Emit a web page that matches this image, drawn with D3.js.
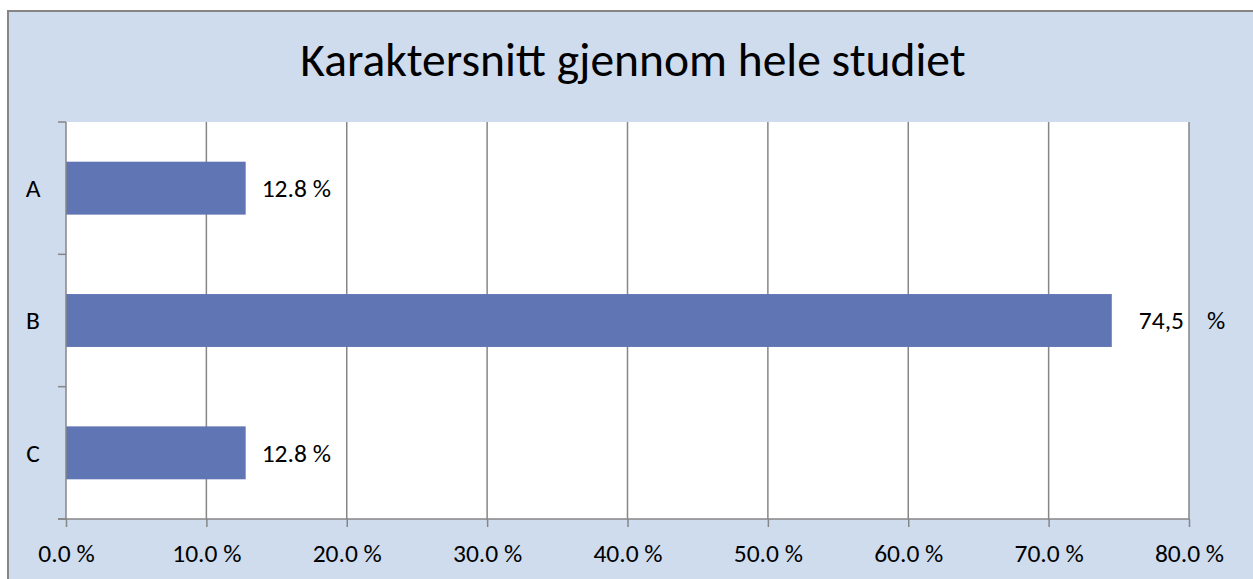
<!DOCTYPE html>
<html>
<head>
<meta charset="utf-8">
<script src="https://cdn.jsdelivr.net/npm/d3@7"></script>
<style>
  body { margin: 0; background: #fff; }
  text { font-family: Carlito, "Open Sans", "Liberation Sans", sans-serif; fill: #000; }
</style>
</head>
<body>
<svg id="chart" width="1253" height="579"></svg>
<script>
// data
var categories = ["A", "B", "C"];
var values = [12.8, 74.5, 12.8];
var valueLabels = ["12.8 %", "74,5", "12.8 %"];
var xTicks = [0, 10, 20, 30, 40, 50, 60, 70, 80];
var title = "Karaktersnitt gjennom hele studiet";

var svg = d3.select("#chart");
var W = 1253, H = 579;
var margin = {left: 66, top: 122, right: W - 1189, bottom: H - 519};
var width = W - margin.left - margin.right,
    height = H - margin.top - margin.bottom;
var fs = 25.5;

// outer chart area
svg.append("rect")
    .attr("x", 8).attr("y", 11)
    .attr("width", W - 8 + 5).attr("height", H - 11 + 5)
    .attr("fill", "#cfdcee")
    .attr("stroke", "#868686").attr("stroke-width", 2);

svg.append("text")
    .attr("x", 633).attr("y", 76)
    .attr("text-anchor", "middle")
    .attr("font-size", 47.5)
    .text(title);

var g = svg.append("g").attr("transform", `translate(${margin.left},${margin.top})`);

g.append("rect")
    .attr("width", width).attr("height", height)
    .attr("fill", "#fff");

var xScale = d3.scaleLinear().domain([0, 80]).range([0, width]);
var yScale = d3.scaleBand().domain(categories).range([0, height]).paddingInner(0.6).paddingOuter(0.3);
var yOuter = d3.scaleBand().domain(categories).range([0, height]);

// vertical gridlines
g.selectAll(".grid").data(xTicks.slice(1))
    .enter().append("line")
    .attr("x1", d => xScale(d)).attr("x2", d => xScale(d))
    .attr("y1", 0).attr("y2", height)
    .attr("stroke", "#868686").attr("stroke-width", 1.5);

// bars
g.selectAll(".bar").data(values)
    .enter().append("rect")
    .attr("x", 0)
    .attr("y", (d, i) => yScale(categories[i]))
    .attr("width", d => xScale(d))
    .attr("height", yScale.bandwidth())
    .attr("fill", "#6076b4");

// value labels (the B label is split, "%" sits apart)
var lbl = g.selectAll(".lbl").data(values)
    .enter().append("text")
    .attr("x", (d, i) => xScale(d) + (valueLabels[i].indexOf("%") < 0 ? 27 : 16))
    .attr("y", (d, i) => yScale(categories[i]) + yScale.bandwidth() / 2)
    .attr("dy", "0.35em")
    .attr("font-size", fs);
lbl.append("tspan").text((d, i) => valueLabels[i]);
lbl.filter((d, i) => valueLabels[i].indexOf("%") < 0)
    .append("tspan").attr("dx", 23).text("%");

// axes
var xAxis = d3.axisBottom(xScale).tickValues(xTicks)
    .tickFormat(d => d3.format(".1f")(d) + " %")
    .tickSize(8).tickSizeOuter(0);
var xg = g.append("g").attr("transform", `translate(0,${height})`).call(xAxis);
xg.select(".domain").attr("stroke", "#868686").attr("stroke-width", 1.5)
    .attr("d", `M-8,0H${width}`);
xg.selectAll(".tick line").attr("stroke", "#868686").attr("stroke-width", 1.5);
xg.selectAll(".tick text").attr("font-size", fs).attr("y", 43).attr("dy", 0)
    .attr("font-family", "Carlito, 'Open Sans', 'Liberation Sans', sans-serif").attr("fill", "#000");

// y axis: ticks between categories
var yTickPos = categories.map(c => yOuter(c)).concat([height]);
g.append("line").attr("x1", 0).attr("x2", 0).attr("y1", 0).attr("y2", height)
    .attr("stroke", "#868686").attr("stroke-width", 1.5);
g.selectAll(".ytick").data(yTickPos)
    .enter().append("line")
    .attr("x1", -8).attr("x2", 0)
    .attr("y1", d => d).attr("y2", d => d)
    .attr("stroke", "#868686").attr("stroke-width", 1.5);
g.selectAll(".ylab").data(categories)
    .enter().append("text")
    .attr("x", -33)
    .attr("y", d => yOuter(d) + yOuter.bandwidth() / 2)
    .attr("dy", "0.35em")
    .attr("text-anchor", "middle")
    .attr("font-size", fs)
    .text(d => d);
</script>
</body>
</html>
